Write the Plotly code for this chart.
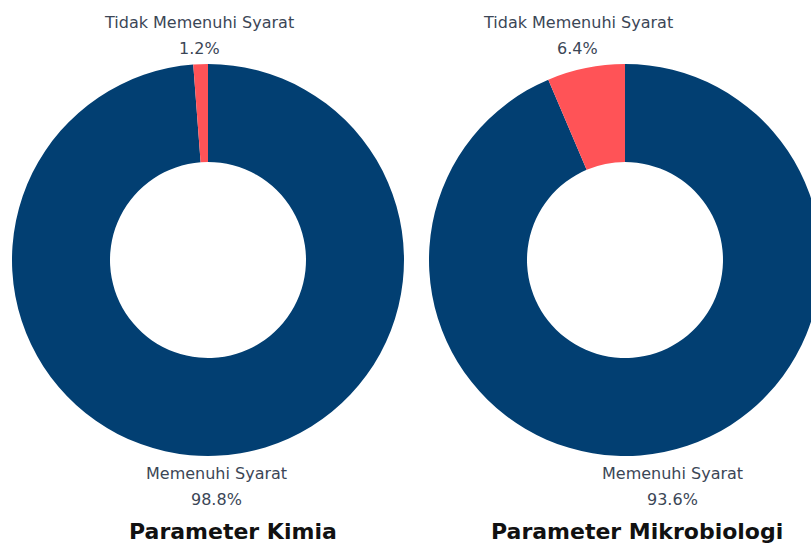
import math
import plotly.graph_objects as go

labels = ["Memenuhi Syarat", "Tidak Memenuhi Syarat"]
kimia_values = [98.8, 1.2]
mikro_values = [93.6, 6.4]
titles = ["Parameter Kimia", "Parameter Mikrobiologi"]
colors = ["#023F72", "#FF5357"]

W, H = 821, 545
R = 196
CY = 260
centers_x = [208, 625]
title_x = [233, 637]

LABEL_FONT = dict(family="DejaVu Sans", size=16, color="#3B4656")
TITLE_FONT = dict(family="DejaVu Sans", size=22, color="#111111")

fig = go.Figure()
for vals, cx, title, tx in zip([kimia_values, mikro_values], centers_x, titles, title_x):
    fig.add_trace(go.Pie(
        labels=labels,
        values=vals,
        hole=0.5,
        sort=False,
        direction="clockwise",
        rotation=0,
        marker=dict(colors=colors, line=dict(width=0)),
        textinfo="none",
        domain=dict(x=[(cx - R) / W, (cx + R) / W], y=[1 - (CY + R) / H, 1 - (CY - R) / H]),
        showlegend=False,
        hoverinfo="label+percent",
    ))
    total = sum(vals)
    cum = 0.0
    for lab, v in zip(labels, vals):
        theta = 2 * math.pi * (cum + v / 2) / total
        cum += v
        lx = cx + (R + 40) * math.sin(theta)
        if math.cos(theta) > 0:
            y_name = CY - R - 42
            y_pct = CY - R - 16
        else:
            y_name = CY + R + 17
            y_pct = CY + R + 43
        pct = f"{100 * v / total:.1f}%"
        for txt, yy in [(lab, y_name), (pct, y_pct)]:
            fig.add_annotation(x=lx / W, y=1 - yy / H, xref="paper", yref="paper", text=txt,
                               showarrow=False, xanchor="center", yanchor="middle",
                               font=LABEL_FONT)
    fig.add_annotation(x=tx / W, y=1 - 531 / H, xref="paper", yref="paper",
                       text=f"<b>{title}</b>", showarrow=False, xanchor="center",
                       yanchor="middle", font=TITLE_FONT)

fig.update_layout(
    width=W, height=H,
    margin=dict(l=0, r=0, t=0, b=0),
    paper_bgcolor="white",
    plot_bgcolor="white",
)

fig.write_html(
    "out.html",
    config={"displayModeBar": False},
    post_script="document.body.style.margin='0px';document.documentElement.style.overflow='hidden';document.body.style.overflow='hidden';",
)
